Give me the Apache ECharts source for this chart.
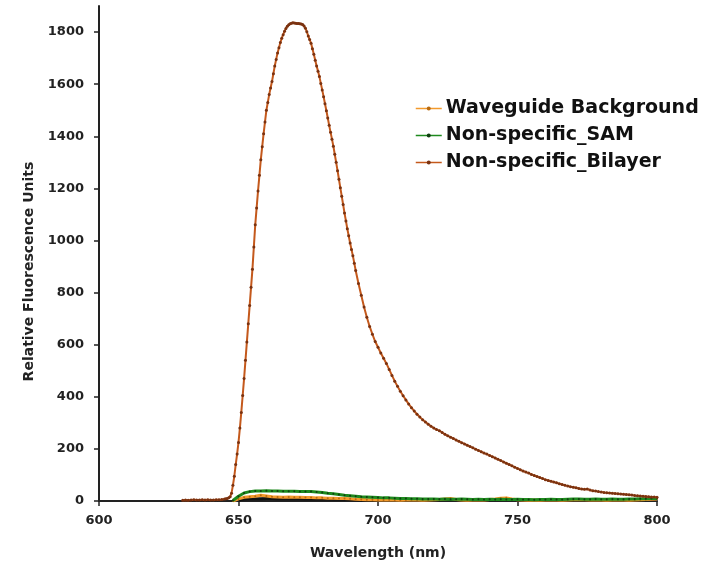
<!DOCTYPE html>
<html>
<head>
<meta charset="utf-8">
<script src="https://cdn.jsdelivr.net/npm/echarts@6/dist/echarts.min.js"></script>
<style>html,body{margin:0;padding:0;background:#fff;}#chart{width:717px;height:565px;}</style>
</head>
<body>
<div id="chart"></div>
<script>
// ---- data ----
const xTicks = [600, 650, 700, 750, 800];
const yTicks = [0, 200, 400, 600, 800, 1000, 1200, 1400, 1600, 1800];

const bilayerNm = [
  630,631,632,633,634,635,636,637,638,639,640,641,642,643,644,645,
  645.5,646,646.5,647,647.5,648,648.5,649,649.5,650,
  650.5,651,651.5,652,652.5,653,653.5,654,654.5,655,
  655.5,656,656.5,657,657.5,658,658.5,659,659.5,660,
  660.5,661,661.5,662,662.5,663,663.5,664,664.5,665,
  665.5,666,666.5,667,667.5,668,668.5,669,669.5,670,
  670.5,671,671.5,672,672.5,673,673.5,674,674.5,675,
  675.5,676,676.5,677,677.5,678,678.5,679,679.5,680,
  680.5,681,681.5,682,682.5,683,683.5,684,684.5,685,
  685.5,686,686.5,687,687.5,688,688.5,689,689.5,690,
  690.5,691,691.5,692,
  693,694,695,696,697,698,699,700,
  701,702,703,704,705,706,707,708,709,710,
  711,712,713,714,715,716,717,718,719,720,
  721,722,723,724,725,726,727,728,729,730,
  731,732,733,734,735,736,737,738,739,740,
  741,742,743,744,745,746,747,748,749,750,
  751,752,753,754,755,756,757,758,759,760,
  761,762,763,764,765,766,767,768,769,770,
  771,772,773,774,775,776,777,778,779,780,
  781,782,783,784,785,786,787,788,789,790,
  791,792,793,794,795,796,797,798,799,800
];
const bilayerRfu = [
  3,4,3,4,5,4,4,5,4,5,4,4,5,5,6,8,
  9,10,12,16,30,60,95,140,180,225,
  280,340,405,470,540,610,680,750,820,890,
  975,1060,1125,1190,1250,1310,1360,1410,1455,1500,
  1530,1560,1585,1610,1640,1670,1695,1720,1740,1760,
  1776,1790,1803,1814,1822,1828,1832,1834,1836,1835,
  1834,1833,1833,1832,1831,1829,1823,1815,1801,1785,
  1771,1757,1736,1715,1692,1670,1650,1629,1603,1578,
  1552,1525,1498,1470,1442,1415,1389,1362,1331,1300,
  1268,1235,1202,1170,1138,1105,1075,1045,1018,990,
  965,941,913,885,
  835,790,745,705,670,640,612,590,
  568,548,528,505,482,460,440,421,404,388,
  372,358,345,333,322,312,303,295,287,280,
  274,270,263,256,250,245,240,234,229,224,
  219,214,209,204,199,194,189,184,180,175,
  170,165,160,155,150,145,140,135,130,125,
  120,115,111,107,102,98,94,90,86,82,
  79,76,73,70,66,63,60,58,55,53,
  51,48,46,45,46,42,39,38,36,35,
  33,32,31,30,29,28,27,26,25,24,
  23,21,20,19,18,17,16,15,15,14
];

const lowNm = [
  648,650,652,654,656,658,660,662,664,666,
  668,670,672,674,676,678,680,682,684,686,
  688,690,692,694,696,698,700,702,704,706,
  708,710,712,714,716,718,720,722,724,726,
  728,730,732,734,736,738,740,742,744,746,
  748,750,752,754,756,758,760,762,764,766,
  768,770,772,774,776,778,780,782,784,786,
  788,790,792,794,796,798,800
];
const waveguideRfu = [
  0,8,14,16,18,22,19,16,15,14,
  15,14,14,13,13,12,12,11,11,10,
  10,9,7,6,5,5,4,4,5,4,
  3,4,5,4,3,4,5,6,8,10,
  6,4,3,4,5,4,6,8,11,12,
  8,5,4,3,4,3,4,5,4,3,
  4,5,6,5,4,5,4,3,4,5,
  4,3,4,5,6,7,8
];
const samRfu = [
  2,18,31,36,38,38,39,38,38,37,
  37,37,36,36,36,35,33,30,28,25,
  22,20,18,16,15,14,13,12,12,11,
  10,10,9,9,8,8,8,7,8,7,
  7,8,7,6,7,6,7,6,7,6,
  6,7,6,6,5,6,6,7,6,6,
  7,8,8,7,7,8,7,7,8,7,
  7,8,8,9,9,10,10
];
const baseNm = [650,652,654,656,658,660,662,664,666,668,670,672,674,676,678,680,682,684,686,688,690,692,694,696,698,700];
const baseRfu = [4,8,9,9,9,10,10,9,9,9,9,9,8,8,8,8,8,7,7,7,6,5,4,3,3,2];

function pairs(xs, ys) { return xs.map((x, i) => [x, ys[i]]); }

const FONT = 'DejaVu Sans';
const chart = echarts.init(document.getElementById('chart'), null, { renderer: 'canvas' });
chart.setOption({
  backgroundColor: '#ffffff',
  animation: false,
  grid: { left: 99, right: 60, top: 6, bottom: 62, containLabel: false },
  legend: {
    data: ['Waveguide Background', 'Non-specific_SAM', 'Non-specific_Bilayer'],
    orient: 'vertical',
    left: 415, top: 99, padding: 0,
    itemWidth: 26, itemHeight: 5, itemGap: 8,
    lineStyle: { width: 1.5 },
    textStyle: { fontFamily: FONT, fontWeight: 'bold', fontSize: 19, color: '#111', padding: [0, 0, 0, -1] }
  },
  xAxis: {
    type: 'value', min: 600, max: 800, interval: 50,
    name: 'Wavelength (nm)', nameLocation: 'middle', nameGap: 45,
    nameTextStyle: { fontFamily: FONT, fontWeight: 'bold', fontSize: 14, color: '#222' },
    axisLine: { onZero: false, lineStyle: { color: '#222', width: 2 } },
    axisTick: { show: true, length: 5, lineStyle: { color: '#222', width: 1.5 }, customValues: xTicks },
    axisLabel: { fontFamily: FONT, fontWeight: 'bold', fontSize: 13, color: '#222', margin: 13, customValues: xTicks },
    splitLine: { show: false }
  },
  yAxis: {
    type: 'value', min: 0, max: 1900, interval: 200,
    name: 'Relative Fluorescence Units', nameLocation: 'middle', nameGap: 63,
    nameTextStyle: { fontFamily: FONT, fontWeight: 'bold', fontSize: 14, color: '#222', padding: [0, 36, 0, 0] },
    axisLine: { show: true, lineStyle: { color: '#222', width: 2 } },
    axisTick: { show: true, length: 5, lineStyle: { color: '#222', width: 1.5 }, customValues: yTicks },
    axisLabel: { fontFamily: FONT, fontWeight: 'bold', fontSize: 13, color: '#222', margin: 15, customValues: yTicks,
      formatter: v => (v % 200 === 0 && v <= 1800) ? String(v) : '' },
    splitLine: { show: false }
  },
  series: [
    {
      name: 'Baseline', type: 'line', data: pairs(baseNm, baseRfu),
      showSymbol: false, lineStyle: { color: '#111', width: 3 }, itemStyle: { color: '#111' },
      z: 2
    },
    {
      name: 'Waveguide Background', type: 'line', data: pairs(lowNm, waveguideRfu),
      symbol: 'circle', symbolSize: 2, showSymbol: true,
      lineStyle: { color: '#f39a2c', width: 3 }, itemStyle: { color: '#b86a10' },
      z: 3
    },
    {
      name: 'Non-specific_SAM', type: 'line', data: pairs(lowNm, samRfu),
      symbol: 'circle', symbolSize: 2, showSymbol: true,
      lineStyle: { color: '#1e8a1e', width: 3 }, itemStyle: { color: '#0f3d0f' },
      z: 4
    },
    {
      name: 'Non-specific_Bilayer', type: 'line', data: pairs(bilayerNm, bilayerRfu),
      symbol: 'circle', symbolSize: 3, showSymbol: true,
      lineStyle: { color: '#c4591c', width: 2 }, itemStyle: { color: '#7a3210' },
      z: 5
    }
  ]
});
</script>
</body>
</html>
